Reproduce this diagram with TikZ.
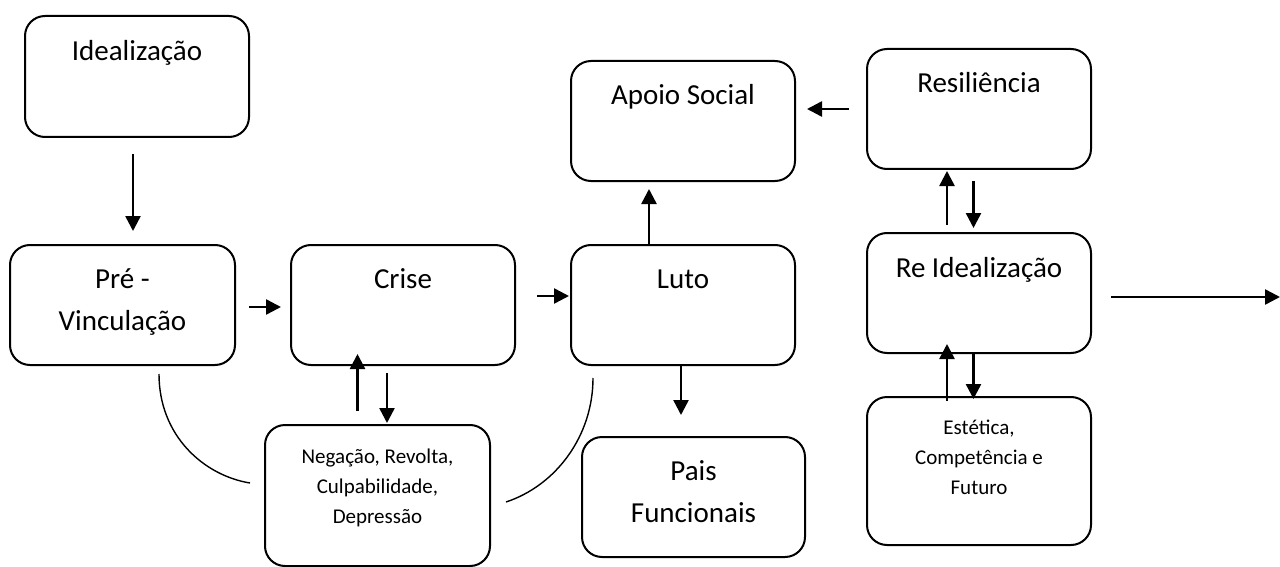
\documentclass[tikz,border=0pt]{standalone}
\usepackage{fontspec}
\setmainfont{Carlito}
\usetikzlibrary{calc,arrows.meta}
\tikzset{
  box/.style={draw, line width=2pt, rounded corners=20pt, inner sep=0pt},
  big/.style={font=\fontsize{29}{42}\selectfont, align=center, inner sep=0pt},
  small/.style={font=\fontsize{21}{30}\selectfont, align=center, inner sep=0pt},
  arr/.style={line width=2.5pt, -{Triangle[length=15pt,width=15pt]}},
  curve/.style={line width=1.4pt}
}
\begin{document}
\begin{tikzpicture}[x=1pt,y=-1pt]
\useasboundingbox (0,0) rectangle (1280,567);
% boxes
\node[box, minimum width=224pt, minimum height=121pt] (ideal) at (137,76.5) {};
\node[box, minimum width=225pt, minimum height=120pt] (pre) at (122.5,305) {};
\node[box, minimum width=224pt, minimum height=120pt] (crise) at (403,305) {};
\node[box, minimum width=224pt, minimum height=120pt] (luto) at (683,305) {};
\node[box, minimum width=224pt, minimum height=120pt] (apoio) at (683,121) {};
\node[box, minimum width=224pt, minimum height=120pt] (resil) at (979,109) {};
\node[box, minimum width=224pt, minimum height=120pt] (reid) at (979,293) {};
\node[box, minimum width=224pt, minimum height=148pt] (estet) at (979,471) {};
\node[box, minimum width=223pt, minimum height=120pt] (pais) at (693.5,497) {};
\node[box, minimum width=225pt, minimum height=141pt] (neg) at (377.5,495.5) {};
% labels (base anchor = baseline of last line)
\node[big, anchor=base] (tideal) at (137,61) {Idealização};
\node[big, anchor=base] (tpre) at (122.5,330) {Pré -\\Vinculação};
\node[big, anchor=base] (tcrise) at (403,288) {Crise};
\node[big, anchor=base] (tluto) at (683,288) {Luto};
\node[big, anchor=base] (tapoio) at (683,105) {Apoio Social};
\node[big, anchor=base] (tresil) at (979,93) {Resiliência};
\node[big, anchor=base] (treid) at (979,277) {Re Idealização};
\node[small, anchor=base] (testet) at (979,494) {Estética,\\Competência e\\Futuro};
\node[big, anchor=base] (tpais) at (693.5,522) {Pais\\Funcionais};
\node[small, anchor=base] (tneg) at (377.5,523) {Negação, Revolta,\\Culpabilidade,\\Depressão};
% arrows
\draw[arr] ($(ideal.south)+(-4,16)$) -- ($(pre.north)+(10.5,-13)$);
\draw[arr] ($(pre.east)+(13,2)$) -- ($(crise.west)+(-9,2)$);
\draw[arr] ($(crise.east)+(21,-9)$) -- ($(luto.west)+(-1,-9)$);
\draw[arr] ($(luto.north)+(-34,0)$) -- ($(apoio.south)+(-34,7)$);
\draw[arr] ($(resil.west)+(-17,0)$) -- ($(apoio.east)+(11,-12)$);
\draw[arr] ($(reid.north)+(-32,-7)$) -- ($(resil.south)+(-32,1)$);
\draw[arr] ($(resil.south)+(-5.5,11)$) -- ($(reid.north)+(-5.5,-4)$);
\coordinate (outend) at (1280,297);
\draw[arr] ($(reid.east)+(19,4)$) -- (outend);
\draw[arr] ($(estet.north)+(-32,5)$) -- ($(reid.south)+(-32,-10)$);
\draw[arr] ($(reid.south)+(-5.5,0)$) -- ($(estet.north)+(-5.5,3)$);
\draw[arr] ($(luto.south)+(-2,0)$) -- ($(pais.north)+(-12.5,-21)$);
\draw[arr] ($(neg.north)+(-20,-13)$) -- ($(crise.south)+(-45.5,-12)$);
\draw[arr] ($(crise.south)+(-16,7)$) -- ($(neg.north)+(9.5,-1)$);
% curves
\draw[curve] ($(pre.south)+(36.5,8)$) .. controls ($(pre.south)+(36.5,70)$) and ($(neg.west)+(-60,-20)$) .. ($(neg.west)+(-14,-12.5)$);
\draw[curve] ($(neg.east)+(15,6.5)$) .. controls ($(neg.east)+(65,-10)$) and ($(luto.south)+(-90,70)$) .. ($(luto.south)+(-90,12)$);
\end{tikzpicture}
\end{document}
